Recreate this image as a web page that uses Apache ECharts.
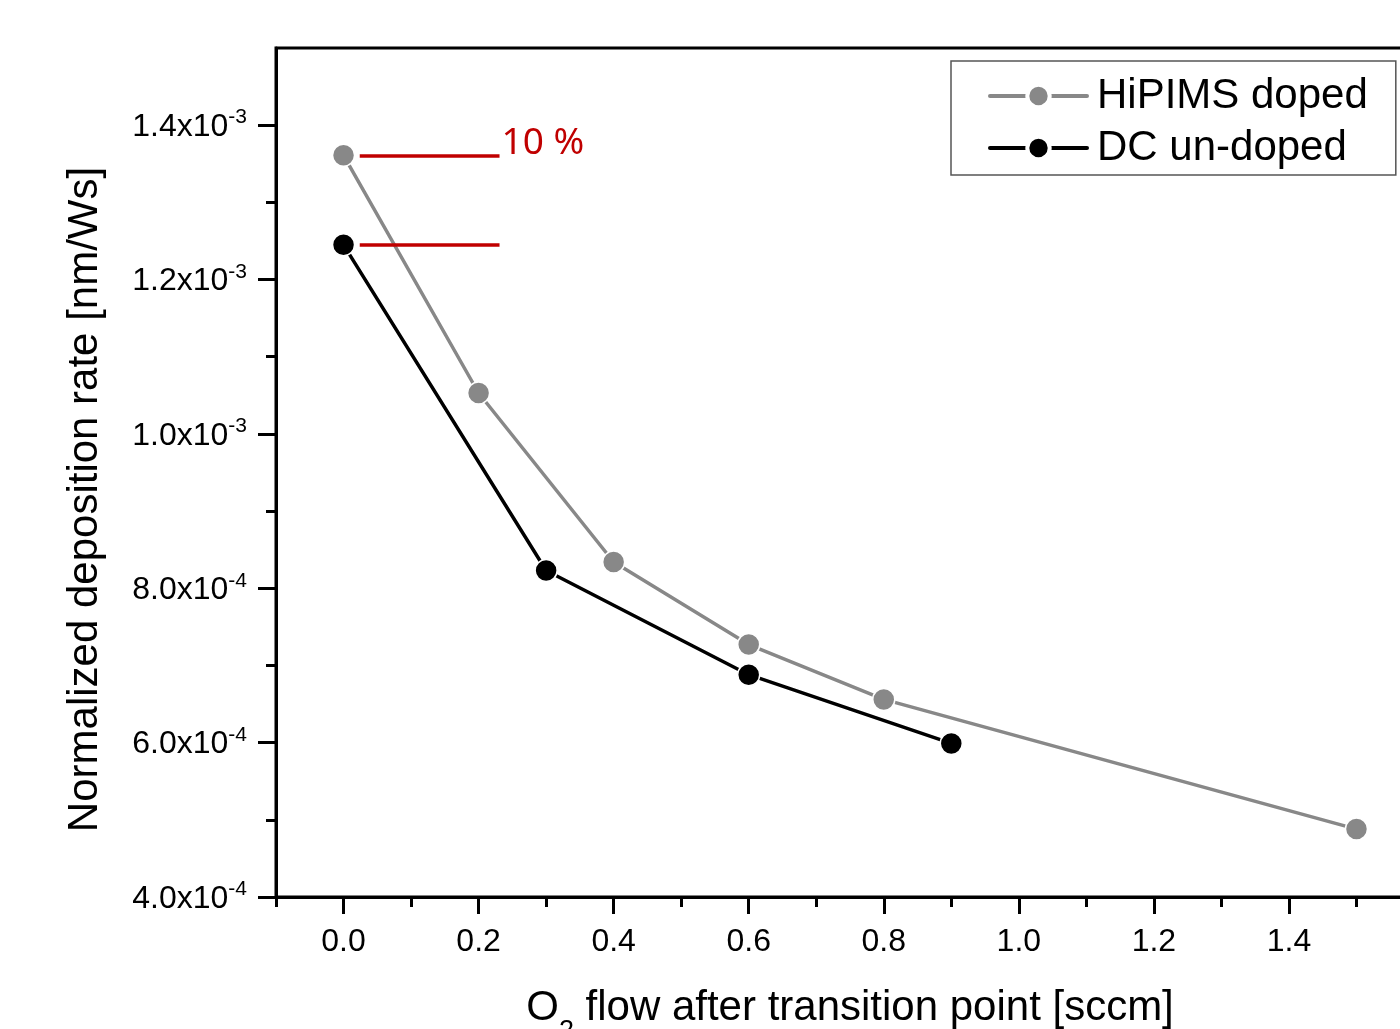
<!DOCTYPE html>
<html>
<head>
<meta charset="utf-8">
<script src="https://cdn.jsdelivr.net/npm/echarts@6/dist/echarts.min.js"></script>
<style>
html,body{margin:0;padding:0;background:#fff;}
#c{width:1400px;height:1029px;}
</style>
</head>
<body>
<div id="c"></div>
<script>
// ---- data ----
const hipimsX = [0.0, 0.2, 0.4, 0.6, 0.8, 1.5];
const hipimsY = [1.361e-3, 1.053e-3, 8.34e-4, 7.27e-4, 6.56e-4, 4.88e-4];
const dcX = [0.0, 0.3, 0.6, 0.9];
const dcY = [1.245e-3, 8.23e-4, 6.88e-4, 5.99e-4];
const xTicks = [0.0, 0.2, 0.4, 0.6, 0.8, 1.0, 1.2, 1.4];
const xMinorTicks = [-0.1, 0.1, 0.3, 0.5, 0.7, 0.9, 1.1, 1.3, 1.5];
const yTicks = [4e-4, 6e-4, 8e-4, 1.0e-3, 1.2e-3, 1.4e-3];
const yMinorTicks = [5e-4, 7e-4, 9e-4, 1.1e-3, 1.3e-3];
const yTickLabels = ['4.0x10|-4', '6.0x10|-4', '8.0x10|-4', '1.0x10|-3', '1.2x10|-3', '1.4x10|-3'];
const seriesNames = ['HiPIMS doped', 'DC un-doped'];
const annotX = [0.024, 0.231];
const annotY = [1.361e-3, 1.245e-3];
const annotText = '10 %';

const FONT = 'Liberation Sans, Arial, sans-serif';
const chart = echarts.init(document.getElementById('c'), null, {renderer: 'canvas'});

function pairs(xs, ys) { return xs.map((x, i) => [x, ys[i]]); }

const XMIN = -0.1, XMAX = 1.6, YMIN = 4e-4, YMAX = 1.5e-3;

const option = {
  backgroundColor: '#fff',
  animation: false,
  grid: {
    left: 276, top: 48, bottom: 132, right: -24,
    outerBoundsMode: 'none', containLabel: false,
    show: true, borderColor: '#000', borderWidth: 3, backgroundColor: 'transparent'
  },
  legend: {
    left: 951, top: 61,
    orient: 'vertical',
    padding: [12, 28, 4, 37],
    itemGap: 6,
    itemWidth: 97, itemHeight: 28,
    borderColor: '#555', borderWidth: 1.5,
    backgroundColor: '#fff',
    lineStyle: {width: 4, cap: 'round'},
    itemStyle: {borderColor: '#fff', borderWidth: 4},
    textStyle: {fontFamily: FONT, fontSize: 42, color: '#000', lineHeight: 46, padding: [0, 0, 0, 5]},
    data: seriesNames
  },
  xAxis: [{
    type: 'value', min: XMIN, max: XMAX,
    position: 'bottom',
    axisLine: {show: true, onZero: false, lineStyle: {color: '#000', width: 3}},
    axisTick: {show: true, inside: false, length: 17, lineStyle: {color: '#000', width: 3}, customValues: xTicks},
    axisLabel: {show: true, customValues: xTicks, margin: 29, fontFamily: FONT, fontSize: 32, color: '#000',
      formatter: v => v.toFixed(1)},
    splitLine: {show: false},
    name: '{a|O}{s|2}{a| flow after transition point [sccm]}',
    nameLocation: 'middle', nameGap: 90,
    nameTextStyle: {
      rich: {
        a: {fontFamily: FONT, fontSize: 42, color: '#000', lineHeight: 46, verticalAlign: 'top'},
        s: {fontFamily: FONT, fontSize: 27, color: '#000', lineHeight: 58, verticalAlign: 'bottom'}
      }
    }
  }, {
    type: 'value', min: XMIN, max: XMAX,
    position: 'bottom',
    axisLine: {show: false, onZero: false},
    axisTick: {show: true, inside: false, length: 10, lineStyle: {color: '#000', width: 3}, customValues: xMinorTicks},
    axisLabel: {show: false},
    splitLine: {show: false}
  }],
  yAxis: [{
    type: 'value', min: YMIN, max: YMAX,
    position: 'left',
    axisLine: {show: true, onZero: false, lineStyle: {color: '#000', width: 3}},
    axisTick: {show: true, inside: false, length: 18, lineStyle: {color: '#000', width: 3}, customValues: yTicks},
    splitLine: {show: false},
    axisLabel: {
      margin: 29,
      fontFamily: FONT, fontSize: 32, color: '#000',
      customValues: yTicks,
      formatter: function (v) {
        let idx = yTicks.findIndex(t => Math.abs(t - v) < 1e-9);
        if (idx < 0) return '';
        const parts = yTickLabels[idx].split('|');
        return '{a|' + parts[0] + '}{b|' + parts[1] + '}';
      },
      rich: {
        a: {fontFamily: FONT, fontSize: 32, color: '#000', lineHeight: 36, verticalAlign: 'bottom'},
        b: {fontFamily: FONT, fontSize: 21, color: '#000', lineHeight: 36, verticalAlign: 'top'}
      }
    },
    name: 'Normalized deposition rate [nm/Ws]',
    nameLocation: 'middle', nameGap: 170, nameRotate: 90,
    nameTextStyle: {fontFamily: FONT, fontSize: 42, color: '#000', padding: [0, 54, 0, 0]}
  }, {
    type: 'value', min: YMIN, max: YMAX,
    position: 'left',
    axisLine: {show: false, onZero: false},
    axisTick: {show: true, inside: false, length: 10, lineStyle: {color: '#000', width: 3}, customValues: yMinorTicks},
    axisLabel: {show: false},
    splitLine: {show: false}
  }],
  series: [{
    name: seriesNames[0], type: 'line', xAxisIndex: 0, yAxisIndex: 0,
    data: pairs(hipimsX, hipimsY),
    symbol: 'circle', symbolSize: 22,
    lineStyle: {color: '#888', width: 3.5},
    itemStyle: {color: '#888', borderColor: '#fff', borderWidth: 1.5},
    z: 3,
    markLine: {
      silent: true, symbol: 'none',
      lineStyle: {color: '#c00000', width: 3.5, type: 'solid'},
      label: {show: false},
      data: annotY.map(y => [{coord: [annotX[0], y]}, {coord: [annotX[1], y]}])
    },
    markPoint: {
      silent: true, symbol: 'circle', symbolSize: 0,
      data: [{coord: [annotX[1], annotY[0]]}],
      label: {show: true, position: 'right', distance: 2, offset: [0, -12], formatter: annotText,
        fontFamily: 'Noto Sans', fontSize: 37, color: '#c00000'}
    }
  }, {
    name: seriesNames[1], type: 'line', xAxisIndex: 0, yAxisIndex: 0,
    data: pairs(dcX, dcY),
    symbol: 'circle', symbolSize: 22,
    lineStyle: {color: '#000', width: 3.5},
    itemStyle: {color: '#000', borderColor: '#fff', borderWidth: 1.5},
    z: 4
  }]
};
chart.setOption(option);
</script>
</body>
</html>
